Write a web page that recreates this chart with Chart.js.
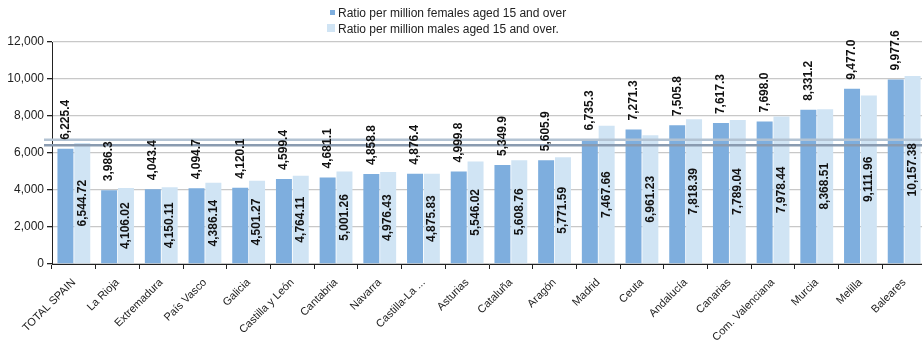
<!DOCTYPE html>
<html>
<head>
<meta charset="utf-8">
<script src="https://cdn.jsdelivr.net/npm/chart.js@4"></script>
<style>
  body { margin: 0; overflow: hidden; background: #fff; font-family: 'Liberation Sans', Arial, sans-serif; }
  #wrap { position: relative; width: 926px; height: 350px; }
  .leg { position: absolute; left: 338px; font-size: 12px; color: #222; white-space: nowrap; }
  .leg i { position: absolute; display: block; }
</style>
</head>
<body>
<div id="wrap">
  <canvas id="RatioChart"></canvas>
  <div class="leg" style="top:6px"><i style="left:-8px;top:4px;width:5px;height:5px;background:#7eaede"></i>Ratio per million females aged 15 and over</div>
  <div class="leg" style="top:22px"><i style="left:-11px;top:2px;width:8px;height:8px;background:#d0e4f4"></i>Ratio per million males aged 15 and over.</div>
</div>
<script>
// categories (regions)
var regions = ['TOTAL SPAIN', 'La Rioja', 'Extremadura', 'País Vasco', 'Galicia', 'Castilla y León',
  'Cantabria', 'Navarra', 'Castilla-La ...', 'Asturias', 'Cataluña', 'Aragón', 'Madrid', 'Ceuta',
  'Andalucía', 'Canarias', 'Com. Valenciana', 'Murcia', 'Melilla', 'Baleares'];

// ratio per million females aged 15 and over
var females = [6225.4, 3986.3, 4043.4, 4094.7, 4120.1, 4599.4, 4681.1, 4858.8, 4876.4, 4999.8,
  5349.9, 5605.9, 6735.3, 7271.3, 7505.8, 7617.3, 7698.0, 8331.2, 9477.0, 9977.6];

// ratio per million males aged 15 and over
var males = [6544.72, 4106.02, 4150.11, 4386.14, 4501.27, 4764.11, 5001.26, 4976.43, 4875.83, 5546.02,
  5608.76, 5771.59, 7467.66, 6961.23, 7818.39, 7789.04, 7978.44, 8368.51, 9111.96, 10157.38];

// the two horizontal reference lines
var refLines = [6720, 6420];
var refColors = ['#b3c3d3', '#8a9bb0'];

var fmt1 = new Intl.NumberFormat('en-US', { minimumFractionDigits: 1, maximumFractionDigits: 1 });
var fmt2 = new Intl.NumberFormat('en-US', { minimumFractionDigits: 2, maximumFractionDigits: 2 });
var FONT = "'Liberation Sans', Arial, sans-serif";

//horizontal lines drawn with the y scale
var refLinePlugin = {
  id: 'refLines',
  afterDatasetsDraw: function (chart) {
    var c = chart.ctx, y = chart.scales.y;
    c.save();
    refLines.forEach(function (v, i) {
      var py = y.getPixelForValue(v);
      c.strokeStyle = refColors[i];
      c.lineWidth = 2.5;
      c.beginPath();
      c.moveTo(chart.chartArea.left - 8, py);
      c.lineTo(chart.width, py);
      c.stroke();
    });
    c.restore();
  }
};

//value labels: females above the bar, males centred inside
var valueLabelPlugin = {
  id: 'valueLabels',
  afterDraw: function (chart) {
    var c = chart.ctx;
    c.save();
    c.fillStyle = '#111';
    c.font = 'bold 12px ' + FONT;
    c.textBaseline = 'middle';
    chart.data.datasets.forEach(function (ds, di) {
      chart.getDatasetMeta(di).data.forEach(function (bar, i) {
        c.save();
        if (di === 0) {
          c.translate(bar.x, bar.y - 9);
          c.rotate(-Math.PI / 2);
          c.textAlign = 'left';
          c.fillText(fmt1.format(ds.data[i]), 0, 0);
        } else {
          c.translate(bar.x, (bar.y + bar.base) / 2);
          c.rotate(-Math.PI / 2);
          c.textAlign = 'center';
          c.fillText(fmt2.format(ds.data[i]), 0, 0);
        }
        c.restore();
      });
    });
    c.restore();
  }
};

var ctx = document.getElementById('RatioChart');

var myChart = new Chart(ctx, {
  type: 'bar',
  data: {
    labels: regions,
    datasets: [{
      label: 'Ratio per million females aged 15 and over',
      data: females,
      backgroundColor: '#7eaede',
      categoryPercentage: 0.77,
      barPercentage: 0.95
    }, {
      label: 'Ratio per million males aged 15 and over.',
      data: males,
      backgroundColor: '#d0e4f4',
      categoryPercentage: 0.77,
      barPercentage: 0.95
    }]
  },
  options: {
    responsive: true,
    maintainAspectRatio: false,
    animation: false,
    layout: { padding: { top: 42, left: 0, right: 0, bottom: 0 } },
    plugins: {
      legend: { display: false },
      tooltip: { enabled: false }
    },
    scales: {
      x: {
        offset: true,
        afterFit: function (s) { s.height = 86; },
        grid: { offset: true, drawOnChartArea: false, color: '#222', tickLength: 5 },
        border: { color: '#222', width: 1 },
        ticks: {
          autoSkip: false, maxRotation: 45, minRotation: 45, padding: 7,
          color: '#222', font: { family: FONT, size: 11 }
        }
      },
      y: {
        min: 0,
        max: 12000,
        afterFit: function (s) { s.width = 52; },
        grid: { color: '#c8c8c8', lineWidth: 1.3, tickColor: '#222', tickLength: 5 },
        border: { color: '#222', width: 1 },
        ticks: {
          stepSize: 2000, padding: 3, color: '#222',
          font: { family: FONT, size: 12 },
          callback: function (v) { return v.toLocaleString('en-US'); }
        }
      }
    }
  },
  plugins: [refLinePlugin, valueLabelPlugin]
});
</script>
</body>
</html>
